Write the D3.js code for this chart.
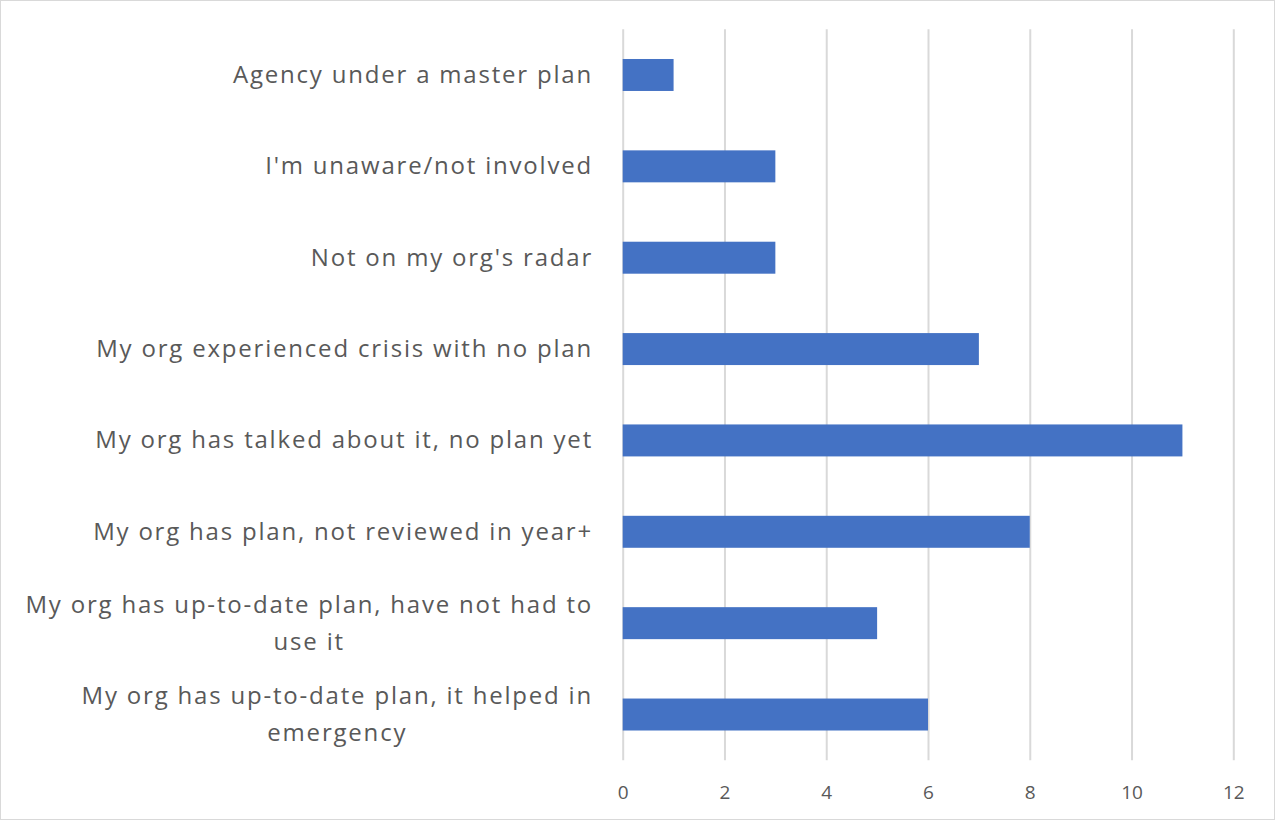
<!DOCTYPE html>
<html><head><meta charset="utf-8">
<script src="https://cdn.jsdelivr.net/npm/d3@7"></script>
<style>body{margin:0;background:#fff}svg{display:block}</style>
</head><body>
<svg id="c" width="1275" height="820"></svg>
<script>
const categories = [
  ["Agency under a master plan"],
  ["I'm unaware/not involved"],
  ["Not on my org's radar"],
  ["My org experienced crisis with no plan"],
  ["My org has talked about it, no plan yet"],
  ["My org has plan, not reviewed in year+"],
  ["My org has up-to-date plan, have not had to", "use it"],
  ["My org has up-to-date plan, it helped in", "emergency"]
];
const values = [1, 3, 3, 7, 11, 8, 5, 6];
const xTicks = [0, 2, 4, 6, 8, 10, 12];

const svg = d3.select("#c");
const W = 1275, H = 820;
const m = {left: 622.7, right: 1233.3, top: 29.3, bottom: 760.2};
const font = "'Open Sans', sans-serif";
const grey = "#595959";

svg.append("rect").attr("x",0.5).attr("y",0.5).attr("width",W-1).attr("height",H-1)
  .attr("fill","#fff").attr("stroke","#d9d9d9");

const x = d3.scaleLinear().domain([0,12]).range([m.left, m.right]);
const idx = categories.map((d,i)=>i);
const y = d3.scaleBand().domain(idx).range([m.top, m.bottom]).paddingInner(0.65).paddingOuter(0.325);

// gridlines
const gx = svg.append("g").attr("transform",`translate(0,${m.bottom})`)
  .call(d3.axisBottom(x).tickValues(xTicks).tickSize(-(m.bottom-m.top)).tickPadding(25).tickFormat(d3.format("d")));
gx.select(".domain").remove();
gx.selectAll(".tick line").attr("stroke","#d9d9d9").attr("stroke-width",2);
gx.selectAll(".tick text").attr("fill",grey).attr("font-family",font).attr("font-size",19);

// bars
svg.append("g").selectAll("rect").data(values).join("rect")
  .attr("x", x(0)).attr("y",(d,i)=>y(i)).attr("width",d=>x(d)-x(0)).attr("height",y.bandwidth())
  .attr("fill","#4472c4");

// category labels
const labG = svg.append("g");
const rightEdge = 592, lh = 37, fs = 24;
categories.forEach((lines,i)=>{
  const cy = y(i) + y.bandwidth()/2 - 2;
  const t = labG.append("text").attr("font-family",font).attr("font-size",fs).attr("fill",grey)
    .attr("letter-spacing","1.8px")
    .attr("text-anchor","middle").attr("dominant-baseline","central");
  lines.forEach((ln,j)=>{
    t.append("tspan").attr("y", cy + (j - (lines.length-1)/2)*lh).text(ln);
  });
  let maxW = 0;
  t.selectAll("tspan").each(function(){ maxW = Math.max(maxW, this.getComputedTextLength()); });
  t.selectAll("tspan").attr("x", rightEdge - maxW/2 + 1);
});
</script>
</body></html>
